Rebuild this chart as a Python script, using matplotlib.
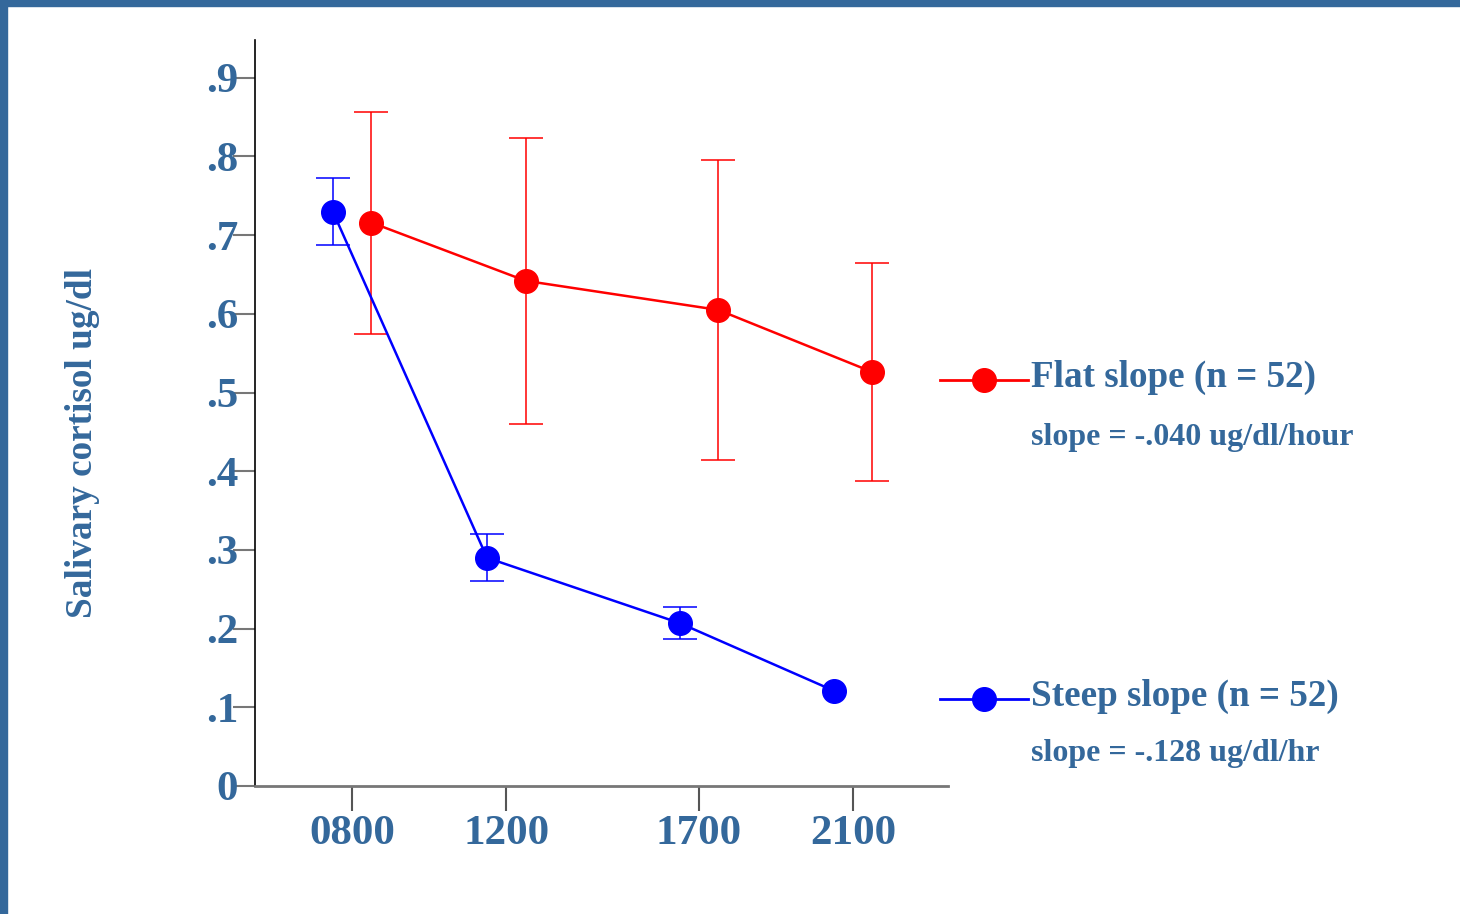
import numpy as np
import matplotlib
matplotlib.use('Agg')
import matplotlib.pyplot as plt
from matplotlib.patches import Rectangle
from matplotlib.lines import Line2D

# clock times of the four saliva samples (hours) and their labels
hours = [8, 12, 17, 21]
hour_labels = ['0800', '1200', '1700', '2100']

# group means and error bars (ug/dl); no bar drawn for the last steep point
flat_mean = [0.716, 0.642, 0.605, 0.526]
flat_err = [0.141, 0.182, 0.191, 0.138]
steep_mean = [0.730, 0.290, 0.207, 0.121]
steep_err = [0.043, 0.030, 0.020, np.nan]

y_ticks = [0, 0.1, 0.2, 0.3, 0.4, 0.5, 0.6, 0.7, 0.8, 0.9]
y_labels = ['0', '.1', '.2', '.3', '.4', '.5', '.6', '.7', '.8', '.9']

flat_name = 'Flat slope (n = 52)'
flat_note = 'slope = -.040 ug/dl/hour'
steep_name = 'Steep slope (n = 52)'
steep_note = 'slope = -.128 ug/dl/hr'

txt = '#34689b'
serif = ['Liberation Serif', 'DejaVu Serif']
shift = 0.5   # nudge the two groups apart so the bars don't overlap

fig = plt.figure(figsize=(14.6, 9.14), dpi=100)
fig.patches.append(Rectangle((0, 0), 7 / 1460, 1, transform=fig.transFigure, color=txt, zorder=0))
fig.patches.append(Rectangle((0, 1 - 6 / 914), 1, 6 / 914, transform=fig.transFigure, color=txt, zorder=0))

ax = fig.add_axes([255 / 1460, 1 - 786 / 914, (948 - 255) / 1460, (786 - 40) / 914])

xf = [h + shift for h in hours]
xs = [h - shift for h in hours]
ax.errorbar(xf, flat_mean, yerr=flat_err, color='red', lw=1.8, marker='o', ms=17,
            elinewidth=1.1, capsize=12, capthick=1.1, zorder=3)
ax.errorbar(xs, steep_mean, yerr=steep_err, color='blue', lw=1.8, marker='o', ms=17,
            elinewidth=1.1, capsize=12, capthick=1.1, zorder=3)

ax.set_xlim(5.48, 23.46)
ax.set_ylim(0, 0.948)
ax.set_xticks(hours)
ax.set_xticklabels(hour_labels)
ax.set_yticks(y_ticks)
ax.set_yticklabels(y_labels)

for s in ['top', 'right']:
    ax.spines[s].set_visible(False)
ax.spines['left'].set_color('black')
ax.spines['bottom'].set_color('#777777')
ax.spines['left'].set_linewidth(1.2)
ax.spines['bottom'].set_linewidth(2)
ax.tick_params(axis='y', length=16, width=1.5, color='#777777', pad=-4)
ax.tick_params(axis='x', length=18, width=1.5, color='#555555', pad=3)
for lab in ax.get_yticklabels():
    lab.set_fontfamily(serif)
    lab.set_fontweight('bold')
    lab.set_fontsize(31)
    lab.set_color(txt)
for lab in ax.get_xticklabels():
    lab.set_fontfamily(serif)
    lab.set_fontweight('bold')
    lab.set_fontsize(31)
    lab.set_color(txt)

fig.text(83 / 1460, 1 - 443 / 914, 'Salivary cortisol ug/dl', rotation=90,
         ha='center', va='center', fontsize=26.8, fontweight='bold',
         family=serif, color=txt)

# hand-placed legend to the right of the plot
for col, yc, name, note, yn in [('red', 380, flat_name, flat_note, 437),
                                ('blue', 699, steep_name, steep_note, 754)]:
    yy = 1 - yc / 914
    fig.add_artist(Line2D([940 / 1460, 1028 / 1460], [yy, yy], color=col, lw=2,
                          transform=fig.transFigure))
    fig.add_artist(Line2D([984 / 1460], [yy], color=col, marker='o', ms=17,
                          transform=fig.transFigure))
    fig.text(1031 / 1460, 1 - (yc - 3) / 914, name, ha='left', va='center',
             fontsize=26.7, fontweight='bold', family=serif, color=txt)
    fig.text(1031 / 1460, 1 - yn / 914, note, ha='left', va='center',
             fontsize=23, fontweight='bold', family=serif, color=txt)

fig.savefig('out.png', dpi=100)
